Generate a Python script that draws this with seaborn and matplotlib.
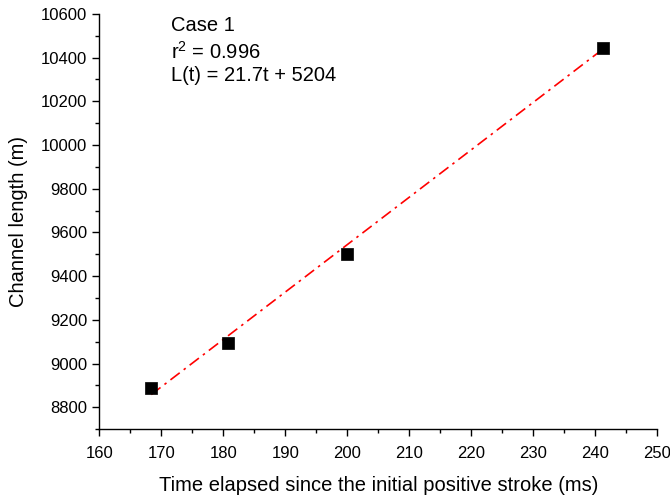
"""
Channel length vs. time elapsed since the initial positive stroke (Case 1).
"""
import numpy as np
import pandas as pd
import seaborn as sns
import matplotlib.pyplot as plt
from matplotlib.ticker import MultipleLocator

time_ms = [168.4, 180.8, 200.0, 241.2]
length_m = [8888, 9094, 9502, 10446]

# linear fit reported on the chart
slope = 21.7
intercept = 5204
r_squared = 0.996
case_label = "Case 1"


def main():
    sns.set_style("ticks")
    plt.rcParams['font.family'] = ['Liberation Sans', 'DejaVu Sans']
    plt.rcParams['mathtext.default'] = 'regular'
    plt.rcParams['text.color'] = 'black'
    plt.rcParams['axes.labelcolor'] = 'black'

    data = pd.DataFrame({'t': time_ms, 'L': length_m})
    t_fit = np.array([min(time_ms), max(time_ms)])
    fit = pd.DataFrame({'t': t_fit, 'L': slope * t_fit + intercept})

    fig = plt.figure(figsize=(6.7, 4.95), dpi=100)
    ax = fig.add_axes([0.148, 0.133, 0.833, 0.839])

    sns.lineplot(data=fit, x='t', y='L', ax=ax, color='red', linewidth=1.2,
                 dashes=False, linestyle=(0, (7, 3, 1.5, 3)))
    sns.scatterplot(data=data, x='t', y='L', ax=ax, marker='s', s=70,
                    color='black', edgecolor='black', linewidth=0.5, zorder=3)

    ax.set_xlim(160, 250)
    ax.set_ylim(8700, 10600)
    ax.xaxis.set_major_locator(MultipleLocator(10))
    ax.xaxis.set_minor_locator(MultipleLocator(5))
    ax.yaxis.set_major_locator(MultipleLocator(200))
    ax.yaxis.set_minor_locator(MultipleLocator(100))
    ax.tick_params(which='major', direction='out', length=5, width=1,
                   labelsize=12, colors='black')
    ax.tick_params(which='minor', direction='out', length=3, width=1,
                   colors='black')
    ax.tick_params(axis='x', which='major', pad=7)
    for side in ['left', 'bottom']:
        ax.spines[side].set_linewidth(1)
        ax.spines[side].set_color('black')
    sns.despine(ax=ax)

    ax.set_xlabel('Time elapsed since the initial positive stroke (ms)',
                  fontsize=14.5, labelpad=11)
    ax.set_ylabel('Channel length (m)', fontsize=14.5, labelpad=9)

    ax.text(0.128, 0.995, case_label, transform=ax.transAxes,
            fontsize=14.5, va='top')
    ax.text(0.128, 0.935, f'r$^2$ = {r_squared}', transform=ax.transAxes,
            fontsize=14.5, va='top')
    ax.text(0.128, 0.875, f'L(t) = {slope}t + {intercept}',
            transform=ax.transAxes, fontsize=14.5, va='top')

    plt.savefig('out.png', dpi=100)


if __name__ == "__main__":
    main()
